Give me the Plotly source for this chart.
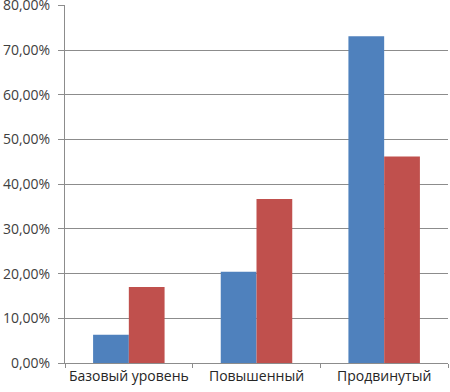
import plotly.graph_objects as go

categories = ["Базовый уровень", "Повышенный", "Продвинутый"]
series_a = [0.063, 0.204, 0.731]
series_b = [0.170, 0.367, 0.462]
y_ticks = [0, 0.1, 0.2, 0.3, 0.4, 0.5, 0.6, 0.7, 0.8]

fig = go.Figure()
fig.add_bar(x=categories, y=series_a, marker=dict(color="#4F81BD", line=dict(width=0)), name="A")
fig.add_bar(x=categories, y=series_b, marker=dict(color="#C0504D", line=dict(width=0)), name="B")

fig.update_layout(
    width=450, height=392,
    margin=dict(l=65, r=2, t=5, b=29),
    paper_bgcolor="white", plot_bgcolor="white",
    barmode="group", bargap=0.44, bargroupgap=0,
    showlegend=False,
    separators=", ",
    font=dict(family="Open Sans", size=14, color="#404040"),
)
fig.update_yaxes(
    range=[0, 0.801], tickvals=y_ticks, tickformat=".2%",
    showgrid=True, gridcolor="#8C8C8C", gridwidth=1,
    showline=True, linecolor="#8C8C8C", linewidth=1,
    ticks="outside", ticklen=6, tickcolor="#8C8C8C",
    ticklabelstandoff=5, automargin=False, ticklabeloverflow="allow",
    zeroline=False, tickfont=dict(size=14, color="#404040"),
)
fig.update_xaxes(
    showline=True, linecolor="#8C8C8C", linewidth=1,
    ticks="outside", tickson="boundaries", ticklen=4, tickcolor="#8C8C8C",
    automargin=False, tickangle=0,
    tickfont=dict(size=14, color="#262626"),
)
fig.write_html(
    "out.html",
    config={"displayModeBar": False},
    post_script="document.body.style.margin='0';document.body.style.overflow='hidden';",
)
